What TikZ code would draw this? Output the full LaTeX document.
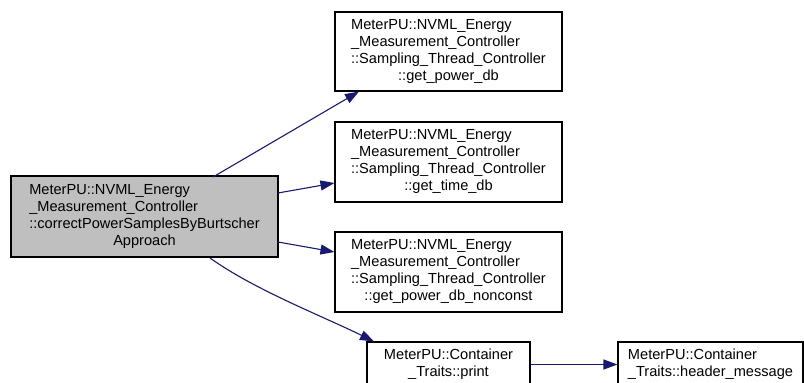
\documentclass[tikz,border=0pt]{standalone}
\usepackage{fontspec}
\setmainfont{Liberation Sans}
\usetikzlibrary{arrows.meta}
\definecolor{edgeblue}{HTML}{191970}
\definecolor{curfill}{HTML}{BFBFBF}
% multi-line label: leading lines flush left, last line centred
\newcommand\fnlabel[2]{\begin{tabular}{@{}l@{}}#1\\\multicolumn{1}{@{}c@{}}{#2}\end{tabular}}
\tikzset{
  fnbox/.style={draw=black, line width=1.1pt, fill=white, inner sep=0pt,
    font=\fontsize{14.6}{17}\selectfont, anchor=center},
  call/.style={draw=edgeblue, line width=1.1pt,
    -{Triangle[length=14pt,width=10pt]}},
}
\begin{document}
\begin{tikzpicture}[x=1pt,y=-1pt]
\useasboundingbox (0,0) rectangle (804,383);
\begin{scope}
\clip (0,0) rectangle (804,383);
\node[fnbox, fill=curfill, minimum width=267pt, minimum height=81pt] (main) at (144.5,216.5)
  {\fnlabel{MeterPU::NVML\_Energy\\\_Measurement\_Controller\\::correctPowerSamplesByBurtscher}{Approach}};
\node[fnbox, minimum width=227pt, minimum height=79pt] (pdb) at (448.5,51.5)
  {\fnlabel{MeterPU::NVML\_Energy\\\_Measurement\_Controller\\::Sampling\_Thread\_Controller}{::get\_power\_db}};
\node[fnbox, minimum width=227pt, minimum height=80pt] (tdb) at (448.5,162)
  {\fnlabel{MeterPU::NVML\_Energy\\\_Measurement\_Controller\\::Sampling\_Thread\_Controller}{::get\_time\_db}};
\node[fnbox, minimum width=227pt, minimum height=80pt] (pdbn) at (448.5,272)
  {\fnlabel{MeterPU::NVML\_Energy\\\_Measurement\_Controller\\::Sampling\_Thread\_Controller}{::get\_power\_db\_nonconst}};
\node[fnbox, minimum width=163pt, minimum height=45pt] (print) at (448.5,364.5)
  {\fnlabel{MeterPU::Container}{\_Traits::print}};
\node[fnbox, minimum width=185pt, minimum height=45pt] (hdr) at (710.5,364.5)
  {\fnlabel{MeterPU::Container}{\_Traits::header\_message}};

\coordinate (m1) at (213,177);
\coordinate (m2) at (278,193);
\coordinate (m3) at (278,242);
\coordinate (m4) at (210,258);
\draw[call] (m1) -- (pdb.south west -| 359,0);
\draw[call] (m2) -- (tdb.west |- 0,183);
\draw[call] (m3) -- (pdbn.west |- 0,252);
\draw[call] (m4) .. controls (255,290) and (320,315) .. (print.north west -| 374,0);
\draw[call] (print.east) -- (hdr.west);
\end{scope}
\end{tikzpicture}
\end{document}
